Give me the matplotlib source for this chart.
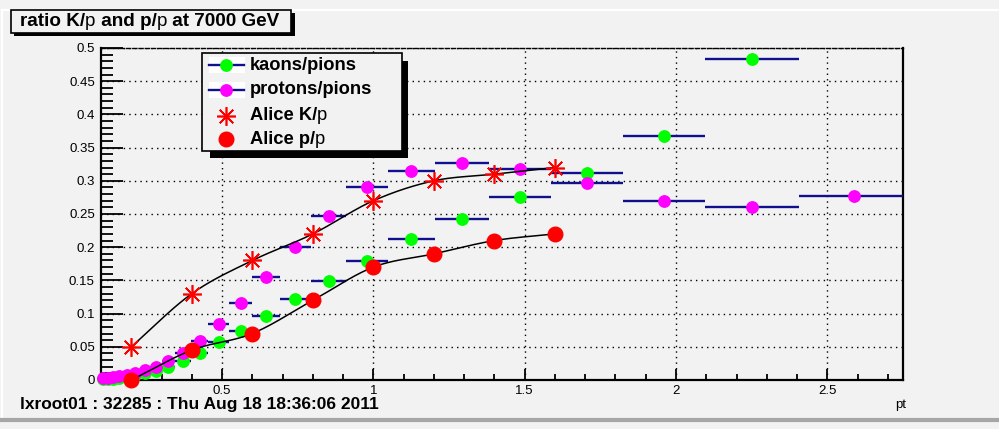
import numpy as np
import matplotlib
matplotlib.use("Agg")
import matplotlib.pyplot as plt
from matplotlib.patches import Rectangle
from matplotlib.lines import Line2D
from matplotlib.ticker import MultipleLocator

# ---- data -------------------------------------------------------------
# pt bin edges shared by the kaon/pion and proton/pion ratios
pt_edges = [0.099, 0.113, 0.130, 0.150, 0.172, 0.198, 0.227, 0.261, 0.300,
            0.344, 0.396, 0.455, 0.522, 0.600, 0.690, 0.793, 0.911, 1.047,
            1.203, 1.382, 1.588, 1.824, 2.096, 2.408, 2.767]

kaons_pions = [0.001, 0.002, 0.002, 0.003, 0.005, 0.007, 0.010, 0.0136,
               0.020, 0.029, 0.041, 0.057, 0.074, 0.0965, 0.122, 0.149,
               0.179, 0.2125, 0.243, 0.275, 0.3115, 0.368, 0.484, np.nan]

protons_pions = [0.0026, 0.0035, 0.0045, 0.0056, 0.0075, 0.011, 0.015,
                 0.020, 0.0286, 0.041, 0.0588, 0.084, 0.1156, 0.155, 0.200,
                 0.2477, 0.290, 0.315, 0.327, 0.318, 0.296, 0.269, 0.260,
                 0.277]

alice_pt = [0.2, 0.4, 0.6, 0.8, 1.0, 1.2, 1.4, 1.6]
alice_k_pi = [0.05, 0.13, 0.18, 0.22, 0.27, 0.30, 0.31, 0.32]
alice_p_pi = [0.0, 0.045, 0.07, 0.12, 0.17, 0.19, 0.21, 0.22]

title_parts = [("ratio K/", "bold"), ("p", "normal"), (" and p/", "bold"),
               ("p", "normal"), (" at 7000 GeV", "bold")]
stamp_text = "lxroot01 : 32285 : Thu Aug 18 18:36:06 2011"

# ---- style ------------------------------------------------------------
W, H = 999, 429
BG = "#f2f2f2"
NAVY = "#10108c"
GREEN = "#00ff00"
MAGENTA = "#ff00ff"
RED = "#ff0000"
FONT = "Liberation Sans"

plt.rcParams["font.family"] = [FONT, "DejaVu Sans"]

fig = plt.figure(figsize=(W / 100, H / 100), dpi=100, facecolor=BG)


def fx(px):
    return px / W


def fy(py):
    return 1 - py / H


def frect(x0, y0, x1, y1, **kw):
    """Rectangle given in pixel coords (origin top-left)."""
    r = Rectangle((fx(x0), fy(y1)), fx(x1) - fx(x0), fy(y0) - fy(y1),
                  transform=fig.transFigure, **kw)
    fig.add_artist(r)
    return r


def fline(xs, ys, **kw):
    ln = Line2D([fx(v) for v in xs], [fy(v) for v in ys],
                transform=fig.transFigure, **kw)
    fig.add_artist(ln)
    return ln


# canvas bevel
fline([2, W], [9.5, 9.5], color="white", lw=1.6, zorder=0)
fline([2, 2], [9.5, 420], color="white", lw=1.6, zorder=0)
fline([2, W], [420, 420], color="#a6a6a6", lw=3.0, zorder=0)

# ---- axes ---------------------------------------------------------------
ax_l, ax_r, ax_t, ax_b = 101, 903, 48, 380
ax = fig.add_axes([fx(ax_l), fy(ax_b), fx(ax_r) - fx(ax_l),
                   fy(ax_t) - fy(ax_b)])
ax.set_facecolor(BG)
ax.set_xlim(0.1, 2.75)
ax.set_ylim(0.0, 0.5)

ax.xaxis.set_major_locator(MultipleLocator(0.5))
ax.xaxis.set_minor_locator(MultipleLocator(0.1))
ax.yaxis.set_major_locator(MultipleLocator(0.05))
ax.yaxis.set_minor_locator(MultipleLocator(0.01))
ax.xaxis.set_major_formatter(plt.FuncFormatter(lambda v, p: f"{v:g}"))
ax.yaxis.set_major_formatter(plt.FuncFormatter(lambda v, p: f"{v:g}"))

ax.tick_params(axis="y", which="major", direction="in", length=16,
               width=1.3, labelsize=9.5, pad=4.5, right=False)
ax.tick_params(axis="y", which="minor", direction="in", length=8.5,
               width=1.3, right=False)
ax.tick_params(axis="x", which="major", direction="in", length=8,
               width=1.3, labelsize=9.5, pad=3.5, top=False)
ax.tick_params(axis="x", which="minor", direction="in", length=4,
               width=1.3, top=False)

for side in ("left", "bottom", "right"):
    ax.spines[side].set_linewidth(1.6)
    ax.spines[side].set_color("black")
ax.spines["top"].set_linewidth(1.0)
ax.spines["top"].set_linestyle((0, (3, 1.5)))

ax.grid(True, which="major", color="black", linestyle=(0, (1, 3)),
        linewidth=1.0)
ax.set_axisbelow(True)

# ---- binned ratios -------------------------------------------------------
edges = np.array(pt_edges)
centers = 0.5 * (edges[:-1] + edges[1:])
half = 0.5 * (edges[1:] - edges[:-1])

for vals, col in ((kaons_pions, GREEN), (protons_pions, MAGENTA)):
    v = np.array(vals, dtype=float)
    ok = ~np.isnan(v)
    ax.errorbar(centers[ok], v[ok], xerr=half[ok], fmt="none",
                ecolor=NAVY, elinewidth=1.7, capsize=0, zorder=3)
    ax.plot(centers[ok], v[ok], "o", ms=8.2, color=col, mec=col, zorder=4,
            clip_on=False)


# ---- ALICE points with smooth curves ---------------------------------------
def smooth(xs, ys, n=30):
    xs = np.asarray(xs, float)
    ys = np.asarray(ys, float)
    px = np.concatenate([[2 * xs[0] - xs[1]], xs, [2 * xs[-1] - xs[-2]]])
    py = np.concatenate([[2 * ys[0] - ys[1]], ys, [2 * ys[-1] - ys[-2]]])
    outx, outy = [], []
    t = np.linspace(0, 1, n, endpoint=False)
    for i in range(1, len(px) - 2):
        for arr, out in ((px, outx), (py, outy)):
            p0, p1, p2, p3 = arr[i - 1], arr[i], arr[i + 1], arr[i + 2]
            out.extend(0.5 * ((2 * p1) + (-p0 + p2) * t
                              + (2 * p0 - 5 * p1 + 4 * p2 - p3) * t ** 2
                              + (-p0 + 3 * p1 - 3 * p2 + p3) * t ** 3))
    outx.append(xs[-1])
    outy.append(ys[-1])
    return np.array(outx), np.array(outy)


for yy in (alice_k_pi, alice_p_pi):
    sx, sy = smooth(alice_pt, yy)
    ax.plot(sx, sy, color="black", lw=1.1, zorder=5)

STAR = (8, 2, 0)
ax.plot(alice_pt, alice_k_pi, linestyle="none", marker=STAR, ms=13.5,
        mec=RED, mew=1.2, zorder=6)
ax.plot(alice_pt, alice_p_pi, "o", ms=10.5, color=RED, mec=RED, zorder=6,
        clip_on=False)

# ---- title box --------------------------------------------------------------
frect(14, 13, 295, 36, facecolor="black", edgecolor="none", zorder=1)
frect(11, 10, 291, 33, facecolor=BG, edgecolor="black", lw=1.2, zorder=2)


def rich_text(x_px, y_px, parts, size):
    renderer = fig.canvas.get_renderer()
    x = fx(x_px)
    for s, wt in parts:
        t = fig.text(x, fy(y_px), s, fontsize=size, fontweight=wt,
                     va="center", ha="left", color="black", zorder=10)
        bb = t.get_window_extent(renderer=renderer)
        x += bb.width / W


rich_text(20, 22, title_parts, 13.6)

# ---- legend ---------------------------------------------------------------
frect(210, 61, 408, 158, facecolor="black", edgecolor="none", zorder=7)
frect(202, 53, 402, 151, facecolor=BG, edgecolor="black", lw=1.2, zorder=8)

rows = [65, 90, 116, 139]
mk_x = 226
for ry, col in ((rows[0], GREEN), (rows[1], MAGENTA)):
    frect(209, ry - 8, 245, ry + 8, facecolor="white", edgecolor="none",
          zorder=9)
    fline([209, 244], [ry, ry], color=NAVY, lw=1.7, zorder=10)
    fline([mk_x], [ry], marker="o", ms=8.2, color=col, mec=col, zorder=11)
fline([mk_x], [rows[2]], marker=STAR, ms=13.5, mec=RED, mew=1.2,
      linestyle="none", zorder=11)
fline([mk_x], [rows[3]], marker="o", ms=10.5, color=RED, mec=RED,
      linestyle="none", zorder=11)

leg_labels = [
    [("kaons/pions", "bold")],
    [("protons/pions", "bold")],
    [("Alice K/", "bold"), ("p", "normal")],
    [("Alice p/", "bold"), ("p", "normal")],
]
for ry, parts in zip(rows, leg_labels):
    rich_text(250, ry, parts, 13.2)

# ---- axis title and stamp ----------------------------------------------------
fig.text(fx(906), fy(405), "pt", fontsize=9.5, ha="right", va="center")
fig.text(fx(20), fy(404), stamp_text, fontsize=12.5, fontweight="bold",
         ha="left", va="center")

fig.savefig("out.png", dpi=100, facecolor=BG)
